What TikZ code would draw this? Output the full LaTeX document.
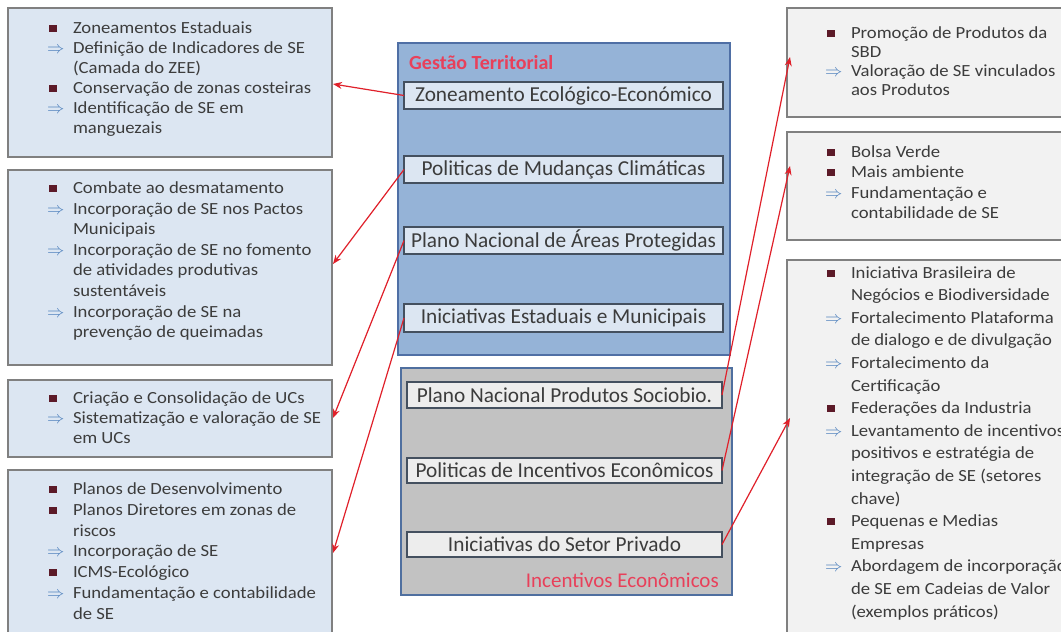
\documentclass[tikz,border=0pt]{standalone}
\usepackage{fontspec}
\setmainfont{Carlito}
\newfontfamily\listfont[FakeStretch=1.1]{Carlito}
\usetikzlibrary{arrows.meta}

\definecolor{txtc}{HTML}{3C3C3C}
\definecolor{lfill}{HTML}{DCE6F2}
\definecolor{rfill}{HTML}{F2F2F2}
\definecolor{boxline}{HTML}{808080}
\definecolor{gtfill}{HTML}{95B3D7}
\definecolor{gtline}{HTML}{4F6FA5}
\definecolor{gtinner}{HTML}{DCE6F2}
\definecolor{ieline}{HTML}{4F6F9F}
\definecolor{iefill}{HTML}{C2C2C2}
\definecolor{ieinner}{HTML}{EDEDED}
\definecolor{innerline}{HTML}{44505F}
\definecolor{linkc}{HTML}{E0202A}
\definecolor{labelc}{HTML}{E8405A}
\definecolor{bulc}{HTML}{5C1A28}
\definecolor{arrc}{HTML}{4F81BD}

% list markers
\newcommand\bq{\hspace*{2pt}\textcolor{bulc}{\rule[1.5pt]{7.5pt}{7pt}}}
\newcommand\ar{\textcolor{arrc}{$\Rightarrow$}}
% list body: #1 = line pitch, #2 = rows
\newcommand\itemlist[2]{{\listfont\fontsize{17}{#1}\selectfont
  \begin{tabular}[t]{@{}p{26pt}@{}l@{}}#2\end{tabular}}}

\tikzset{
  lbox/.style={draw=boxline, line width=1.5pt, fill=lfill, anchor=north west,
    inner sep=0pt, outer sep=0pt},
  rbox/.style={lbox, fill=rfill},
  txt/.style={anchor=base west, inner sep=0pt, outer sep=0pt, text=txtc},
  gtbox/.style={draw=gtline, line width=1.5pt, fill=gtfill, anchor=north west,
    inner sep=0pt, outer sep=0pt},
  iebox/.style={gtbox, draw=ieline, fill=iefill},
  ibox/.style={draw=innerline, line width=1.3pt, fill=gtinner, anchor=north west,
    inner sep=0pt, outer sep=0pt, text=txtc, font=\fontsize{21.3}{24}\selectfont},
  igbox/.style={ibox, fill=ieinner},
  link/.style={draw=linkc, line width=1.2pt, -{Stealth[length=9pt,width=7pt]}},
  grouplabel/.style={text=labelc, inner sep=0pt, font=\fontsize{21}{22}\selectfont}
}

\begin{document}
\begin{tikzpicture}[x=1pt,y=-1pt]
\useasboundingbox (0,0) rectangle (1061,632);
\clip (0,0) rectangle (1061,632);
\fill[white] (0,0) rectangle (1061,632);

% ---- left column
\node[lbox, minimum width=324, minimum height=149] (L1) at (8,8) {};
\node[txt] (L1t) at (47,33.5) {\itemlist{20}{%
\bq & Zoneamentos Estaduais\\
\ar & Definição de Indicadores de SE\\
    & (Camada do ZEE)\\
\bq & Conservação de zonas costeiras\\
\ar & Identificação de SE em\\
    & manguezais}};

\node[lbox, minimum width=324, minimum height=195] (L2) at (8,170) {};
\node[txt] (L2t) at (47,193.5) {\itemlist{20.6}{%
\bq & Combate ao desmatamento\\
\ar & Incorporação de SE nos Pactos\\
    & Municipais\\
\ar & Incorporação de SE no fomento\\
    & de atividades produtivas\\
    & sustentáveis\\
\ar & Incorporação de SE na\\
    & prevenção de queimadas}};

\node[lbox, minimum width=324, minimum height=77] (L3) at (8,380) {};
\node[txt] (L3t) at (47,403.5) {\itemlist{20}{%
\bq & Criação e Consolidação de UCs\\
\ar & Sistematização e valoração de SE\\
    & em UCs}};

\node[lbox, minimum width=324, minimum height=170] (L4) at (8,470) {};
\node[txt] (L4t) at (47,494.5) {\itemlist{20.8}{%
\bq & Planos de Desenvolvimento\\
\bq & Planos Diretores em zonas de\\
    & riscos\\
\ar & Incorporação de SE\\
\bq & ICMS-Ecológico\\
\ar & Fundamentação e contabilidade\\
    & de SE}};

% ---- right column
\node[rbox, minimum width=280, minimum height=109] (R1) at (787,8) {};
\node[txt] (R1t) at (825,38.5) {\itemlist{19}{%
\bq & Promoção de Produtos da\\
    & SBD\\
\ar & Valoração de SE vinculados\\
    & aos Produtos}};

\node[rbox, minimum width=280, minimum height=108] (R2) at (787,132) {};
\node[txt] (R2t) at (825,157.5) {\itemlist{20.3}{%
\bq & Bolsa Verde\\
\bq & Mais ambiente\\
\ar & Fundamentação e\\
    & contabilidade de SE}};

\node[rbox, minimum width=280, minimum height=380] (R3) at (787,260) {};
\node[txt] (R3t) at (825,278) {\itemlist{22.6}{%
\bq & Iniciativa Brasileira de\\
    & Negócios e Biodiversidade\\
\ar & Fortalecimento Plataforma\\
    & de dialogo e de divulgação\\
\ar & Fortalecimento da\\
    & Certificação\\
\bq & Federações da Industria\\
\ar & Levantamento de incentivos\\
    & positivos e estratégia de\\
    & integração de SE (setores\\
    & chave)\\
\bq & Pequenas e Medias\\
    & Empresas\\
\ar & Abordagem de incorporação\\
    & de SE em Cadeias de Valor\\
    & (exemplos práticos)}};

% ---- territorial management group
\node[gtbox, minimum width=332, minimum height=312] (GT) at (398,43) {};
\node[grouplabel, anchor=west, font=\fontsize{20}{22}\selectfont\bfseries] (GTl) at (409,63) {Gestão Territorial};
\node[ibox, minimum width=319, minimum height=27] (ZEE) at (404,82) {Zoneamento Ecológico-Económico};
\node[ibox, minimum width=319, minimum height=27] (PMC) at (404,156) {Politicas de Mudanças Climáticas};
\node[ibox, minimum width=319, minimum height=27] (PNAP) at (404,227) {Plano Nacional de Áreas Protegidas};
\node[ibox, minimum width=319, minimum height=28] (IEM) at (404,304) {Iniciativas Estaduais e Municipais};

% ---- economic incentives group
\node[iebox, minimum width=331, minimum height=227] (IE) at (401,368) {};
\node[grouplabel, anchor=east] (IEl) at (719,580) {Incentivos Econômicos};
\node[igbox, minimum width=315, minimum height=26] (PNPS) at (407,382) {Plano Nacional Produtos Sociobio.};
\node[igbox, minimum width=315, minimum height=25] (PIE) at (407,458) {Politicas de Incentivos Econômicos};
\node[igbox, minimum width=315, minimum height=25] (ISP) at (407,532) {Iniciativas do Setor Privado};

% ---- links
\coordinate (r1in) at (790,57);
\coordinate (r2in) at (790,166);
\coordinate (r3in) at (790,418);
\coordinate (l1in) at (333,84);
\coordinate (l2in) at (333,264);
\coordinate (l3in) at (333,418);
\coordinate (l4in) at (333,553);
\draw[link] (ZEE.west) -- (l1in);
\draw[link] (PMC.west) -- (l2in);
\draw[link] (PNAP.west) -- (l3in);
\draw[link] (IEM.west) -- (l4in);
\draw[link] (PNPS.east) -- (r1in);
\draw[link] (PIE.east) -- (r2in);
\draw[link] (ISP.east) -- (r3in);
\end{tikzpicture}
\end{document}
